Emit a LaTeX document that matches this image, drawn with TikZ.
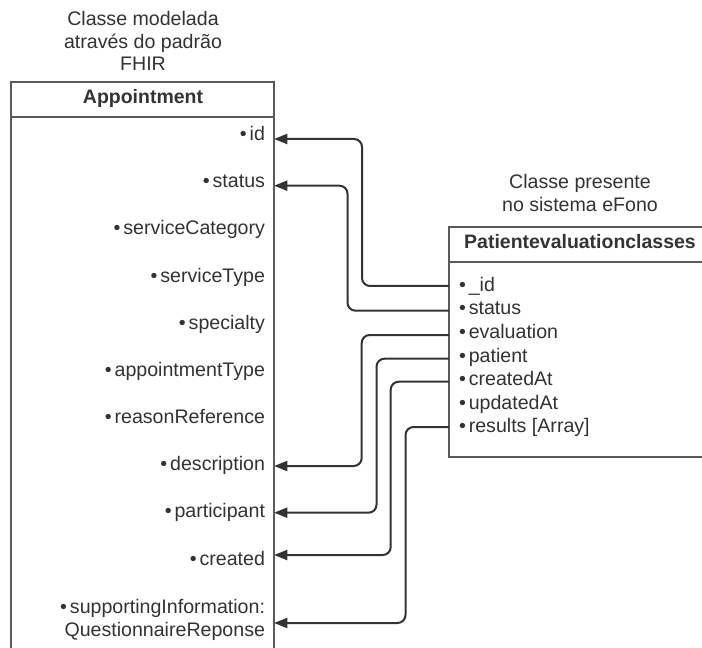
\documentclass[tikz,border=0pt]{standalone}
\usepackage{fontspec}
\setmainfont{Liberation Sans}
\usetikzlibrary{arrows.meta}
\definecolor{ink}{HTML}{333333}
\definecolor{frame}{HTML}{5A5A5A}
\begin{document}
\begin{tikzpicture}[x=0.75pt,y=-0.75pt,
  txt/.style={inner sep=0pt,outer sep=0pt,text=ink,font=\fontsize{14.7}{17.2}\selectfont},
  ttl/.style={txt,font=\fontsize{14.6}{17.2}\bfseries\selectfont},
  note/.style={txt,align=center},
  litem/.style={txt,anchor=base east},
  ritem/.style={txt,anchor=base west},
  boxline/.style={draw=frame,line width=1.4pt},
  conn/.style={draw=ink,line width=1.5pt,rounded corners=6pt,-{Triangle[length=10pt,width=7.5pt]}}]
\clip (0,0) rectangle (702,648);
\fill[white] (0,0) rectangle (702,648);
% --- left class box (Appointment)
\draw[boxline] (11,700) -- (11,82) -- (274,82) -- (274,700);
\draw[boxline] (11,117) -- (274,117);
% --- right class box (Patientevaluationclasses)
\draw[boxline] (720,227) -- (449,227) -- (449,457) -- (720,457);
\draw[boxline] (449,262) -- (720,262);
% --- captions (base anchor = baseline of last line)
\node[note,anchor=base] (capA) at (143,71) {Classe modelada\\através do padrão\\FHIR};
\node[note,anchor=base] (capB) at (580,211.7) {Classe presente\\no sistema eFono};
\node[ttl,anchor=base] (tA) at (143,104) {Appointment};
\node[ttl,anchor=base] (tB) at (580,248.5) {Patientevaluationclasses};
% --- left items
\newcommand{\bul}{•\hspace{2.2pt}}
\node[litem] (lid) at (265,141) {\bul id};
\node[litem] (lstatus) at (265,188) {\bul status};
\node[litem] (lsc) at (265,235) {\bul serviceCategory};
\node[litem] (lst) at (265,282) {\bul serviceType};
\node[litem] (lsp) at (265,329) {\bul specialty};
\node[litem] (lat) at (265,376) {\bul appointmentType};
\node[litem] (lrr) at (265,423) {\bul reasonReference};
\node[litem] (ldesc) at (265,470.5) {\bul description};
\node[litem] (lpart) at (265,517.5) {\bul participant};
\node[litem] (lcre) at (265,565) {\bul created};
\node[txt,align=right,anchor=base east,font=\fontsize{14.7}{16.8}\selectfont] (lsup) at (265,636) {\bul supportingInformation:\\QuestionnaireReponse};
% --- right items
\node[ritem] (rid) at (459,291.5) {\bul\_id};
\node[ritem] (rstatus) at (459,315) {\bul status};
\node[ritem] (reval) at (459,338.5) {\bul evaluation};
\node[ritem] (rpat) at (459,362) {\bul patient};
\node[ritem] (rcre) at (459,385.5) {\bul createdAt};
\node[ritem] (rupd) at (459,409) {\bul updatedAt};
\node[ritem] (rres) at (459,432.5) {\bul results [Array]};
% --- ports
\coordinate (Aid) at (274,139);
\coordinate (Astatus) at (274,185.7);
\coordinate (Adesc) at (274,466);
\coordinate (Apart) at (274,512.7);
\coordinate (Acre) at (274,555);
\coordinate (Asup) at (274,623);
\coordinate (Pid) at (449,286);
\coordinate (Pstatus) at (449,310.7);
\coordinate (Peval) at (449,335);
\coordinate (Ppat) at (449,358.7);
\coordinate (Pcre) at (449,381.7);
\coordinate (Pres) at (449,427);
% --- connectors
\draw[conn] (Pid) -| (362,139) -- (Aid);
\draw[conn] (Pstatus) -| (347.5,185.7) -- (Astatus);
\draw[conn] (Peval) -| (361.7,466) -- (Adesc);
\draw[conn] (Ppat) -| (376.5,512.7) -- (Apart);
\draw[conn] (Pcre) -| (390.7,555) -- (Acre);
\draw[conn] (Pres) -| (405.5,623) -- (Asup);
\end{tikzpicture}
\end{document}
